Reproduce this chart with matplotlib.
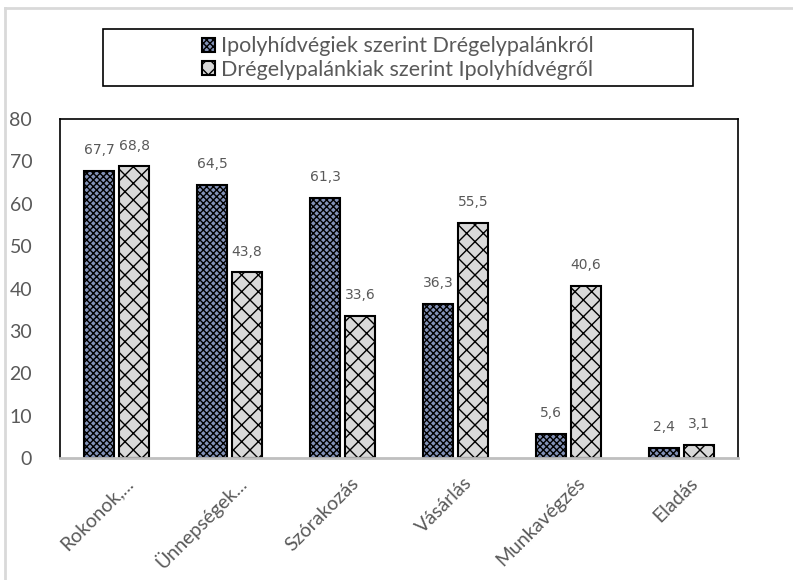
import matplotlib.pyplot as plt
import numpy as np
from matplotlib.lines import Line2D
from matplotlib.patches import Rectangle
from matplotlib.transforms import ScaledTranslation

categories = ["Rokonok,...", "Ünnepségek...", "Szórakozás", "Vásárlás", "Munkavégzés", "Eladás"]
ipoly = [67.7, 64.5, 61.3, 36.3, 5.6, 2.4]
dregely = [68.8, 43.8, 33.6, 55.5, 40.6, 3.1]
series_names = ["Ipolyhídvégiek szerint Drégelypalánkról", "Drégelypalánkiak szerint Ipolyhídvégről"]
yticks = [0, 10, 20, 30, 40, 50, 60, 70, 80]

txt = '#595959'
plt.rcParams['font.family'] = ['Lato', 'DejaVu Sans']
plt.rcParams['hatch.linewidth'] = 1.0

fig = plt.figure(figsize=(7.93, 5.80), dpi=100)
ax = fig.add_axes([60/793, 1-458/580, 678/793, 339/580])

x = np.arange(len(categories))
w = 0.27
b1 = ax.bar(x - w/2 - 0.02, ipoly, w, color='#8392b8', edgecolor='black', hatch='xxxxx', linewidth=1.5,
            label=series_names[0])
b2 = ax.bar(x + w/2 + 0.02, dregely, w, color='#d9d9d9', edgecolor='black', hatch='xx', linewidth=1.5,
            label=series_names[1])

for bars, vals in [(b1, ipoly), (b2, dregely)]:
    for r, v in zip(bars, vals):
        ax.annotate(str(v).replace('.', ','), (r.get_x() + r.get_width()/2, v), xytext=(0, 10),
                    textcoords='offset points', ha='center', va='bottom', fontsize=10,
                    color=txt, family='DejaVu Sans')

ax.set_xlim(-0.5, len(categories) - 0.5)
ax.set_ylim(0, 80)
ax.set_yticks(yticks)
ax.set_yticklabels([str(t) for t in yticks], fontsize=14, color=txt)
ax.tick_params(axis='y', length=0, pad=20)
ax.tick_params(axis='x', length=0, pad=16)
ax.set_xticks(x)
ax.set_xticklabels(categories, rotation=45, ha='right', va='center', rotation_mode='anchor',
                   fontsize=14, color=txt)
shift = ScaledTranslation(14/100, 0, fig.dpi_scale_trans)
for lab in ax.get_xticklabels():
    lab.set_transform(lab.get_transform() + shift)
for s in ax.spines.values():
    s.set_color('black')
    s.set_linewidth(1.2)
ax.spines['bottom'].set_color('#bfbfbf')
ax.spines['bottom'].set_linewidth(2)

# legend box, entries centred inside
fig.add_artist(Rectangle((103/793, 1-86/580), 590/793, 57/580, transform=fig.transFigure,
                         fill=False, edgecolor='black', lw=1.2))
leg = fig.legend(loc='center', bbox_to_anchor=(398/793, 1-58/580), ncol=1, fontsize=15.5,
                 frameon=False, handlelength=0.6, handleheight=0.6, handletextpad=0.3,
                 borderpad=0, labelspacing=0.15, labelcolor=txt)

# outer chart frame
fig.add_artist(Line2D([5/793, 5/793], [0, 1-8/580], transform=fig.transFigure, color='#d9d9d9', lw=2))
fig.add_artist(Line2D([5/793, 1], [1-8/580, 1-8/580], transform=fig.transFigure, color='#d9d9d9', lw=2))

plt.savefig('out.png', dpi=100)
